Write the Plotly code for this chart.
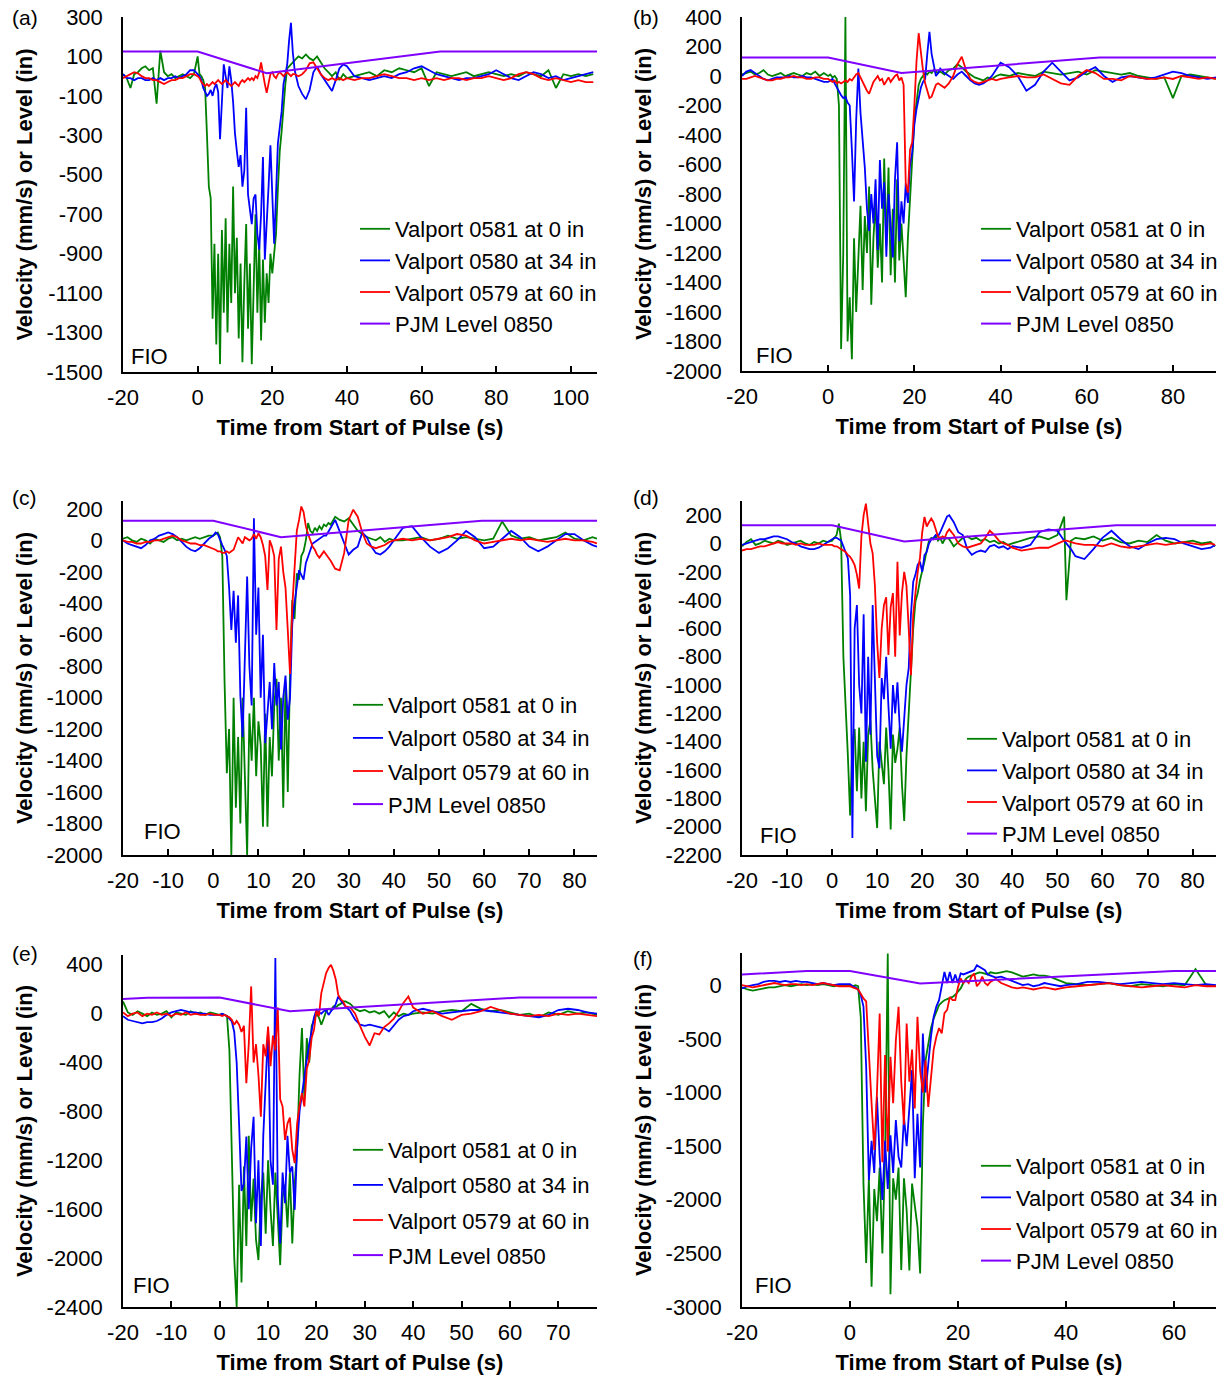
import plotly.graph_objects as go

W, H = 1230, 1377
FONT = "Liberation Sans, Arial, Helvetica, sans-serif"

NAMES = ["Valport 0581 at 0 in", "Valport 0580 at 34 in", "Valport 0579 at 60 in", "PJM Level 0850"]
COLORS = ["#008000", "#0000FF", "#FF0000", "#8000FF"]

# ---------------- shared time segments (s) ----------------
T_PRE = [-20, -19, -18, -17, -16, -15, -14, -13, -12, -11, -10, -9, -8, -7, -6, -5, -4, -3, -2, -1]
T_PULSE = [0, 0.5, 1, 1.5, 2, 2.5, 3, 3.5, 4, 4.5,
           5, 5.5, 6, 6.5, 7, 7.5, 8, 8.5, 9, 9.5,
           10, 10.5, 11, 11.5, 12, 12.5, 13, 13.5, 14, 14.5,
           15, 15.5, 16, 16.5, 17, 17.5, 18, 18.5, 19, 19.5,
           20, 20.5, 21, 21.5, 22, 22.5, 23, 23.5, 24, 24.5,
           25, 25.5]
T_MID = [26, 27, 28, 29, 30, 31, 32, 33, 34, 35, 36, 37, 38, 39, 40]

A_POST = [42, 44, 46, 48, 50, 52, 54, 56, 58, 60, 62, 64, 66, 68, 70, 72, 74, 76, 78, 80,
          82, 84, 86, 88, 90, 92, 94, 96, 98, 100, 102, 104, 106]
B_POST = [42, 44, 46, 48, 50, 52, 54, 56, 58, 60, 62, 64, 66, 68, 70, 72, 74, 76, 78, 80,
          82, 84, 86, 88, 90]
C_POST = [42, 44, 46, 48, 50, 52, 54, 56, 58, 60, 62, 64, 66, 68, 70, 72, 74, 76, 78, 80,
          82, 84, 85]
D_POST = [42, 44, 46, 48, 50, 51.5, 52, 53, 54, 56, 58, 60, 62, 64, 66, 68, 70, 72, 74, 76,
          78, 80, 82, 84, 85]
E_POST = [42, 44, 46, 48, 50, 52, 54, 56, 58, 60, 62, 64, 66, 68, 70, 72, 74, 76, 78]
F_POST = [42, 44, 46, 48, 50, 52, 54, 56, 58, 60, 62, 64, 66, 68]

A_T = T_PRE + T_PULSE + T_MID + A_POST
B_T = T_PRE + T_PULSE + T_MID + B_POST
C_T = T_PRE + T_PULSE + T_MID + C_POST
D_T = T_PRE + T_PULSE + T_MID + D_POST
E_T = T_PRE + T_PULSE + T_MID + E_POST
F_T = T_PRE + T_PULSE + T_MID + F_POST

# ---------------- panel (a) ----------------
A_GREEN = ([10, -10, -60, 10, 20, 40, 50, 30, 40, -140, 130, 20, 0, 10, -10, 0, 10, 0, -10, 10] +
           [100, 10, 0, -20, -60, -300, -560, -620, -1230, -850,
            -1360, -900, -1460, -780, -1200, -720, -1300, -850, -1150, -560,
            -1100, -820, -1330, -950, -1450, -1050, -750, -1280, -950, -1460,
            -1100, -700, -1200, -850, -1340, -930, -1250, -1000, -1150, -900,
            -1000, -900, -800, -570, -380, -280, -150, -40, 40, 50,
            60, 70] +
           [80, 100, 90, 110, 90, 80, 100, 70, 40, 20, 0, 20, -20, 10, -10] +
           [0, 10, 20, 0, 30, 20, 40, 30, 20, 40, -50, 20, 10, 0, 10, 20, 0, 10, 20, 10,
            0, 10, 0, 20, 10, 0, 30, -60, 10, 0, 10, 0, 10])
A_BLUE = ([10, -10, -10, -20, -10, -10, -20, -20, -10, -20, -10, -20, -10, -10, 0, -10, 0, 10, 30, 30] +
          [10, 0, -20, -60, -80, -100, -90, -70, -100, -60,
           -40, -80, -320, -100, 60, 0, -60, 50, -20, -130,
           -290, -380, -460, -400, -560, -480, -160, -600, -680, -750,
           -620, -600, -800, -880, -700, -410, -930, -700, -560, -350,
           -650, -850, -600, -340, -260, -180, -40, 20, 60, 180,
           270, 120] +
          [30, -50, -90, -117, -70, 20, 50, 10, -20, -50, -75, -20, 40, 60, 50] +
          [0, -10, -20, -10, 0, -10, 10, 20, 40, 50, 30, 10, 0, -10, -20, -10, -10, 0, 10, 30,
           10, -10, -20, 0, 20, 10, -10, 0, -20, -10, 0, 10, 20])
A_RED = ([-10, 0, 10, 20, 15, 0, -10, -10, -20, -20, -30, -40, -30, -20, -20, -10, -10, 0, 10, 10] +
         [0, -10, -30, -40, -50, -40, -50, -40, -30, -40,
          -30, -20, -30, -40, -30, -20, -30, -40, -50, -40,
          -30, -40, -50, -30, -20, -30, -20, -10, -20, -10,
          -20, 0, -10, 20, 70, 10, -40, -85, -30, 10,
          20, 0, -10, 10, 20, 10, 0, 10, 20, 10,
          0, 10] +
         [10, 0, 10, 30, 65, 70, 40, 10, -10, -20, -10, -20, -10, -20, -10] +
         [-20, -10, -10, 0, 10, 0, -10, -10, -20, -10, -20, -10, -20, -10, -10, -20, -10, -10, 0, -10,
          -20, -10, 10, 20, 10, -10, -20, -10, -20, -30, -20, -30, -30])
A_LEVEL_T = [-20, 0, 18.5, 65, 107]
A_LEVEL = [125, 125, 15, 125, 125]

# ---------------- panel (b) ----------------
B_GREEN = ([10, 20, 30, 10, 20, 40, 10, 0, 10, 20, 0, 10, 20, 10, 0, 20, 10, 30, 0, 20] +
           [0, 10, -10, 0, -20, -200, -1850, -1200, 400, -1800,
            -1500, -1920, -1100, -1600, -1250, -880, -1450, -950, -1200, -750,
            -1550, -1100, -850, -1300, -1000, -1400, -560, -1150, -620, -1350,
            -900, -1400, -700, -1250, -1000, -1300, -1500, -1100, -800, -550,
            -300, -180, -60, -20, 0, 20, 10, 30, 20, 40,
            30, 20] +
           [30, 10, 40, 50, 80, 60, 30, 10, -10, -20, -30, -10, -20, 0, 10] +
           [0, 20, 10, 0, 30, 20, 10, 20, 30, 10, 40, 30, 20, 10, 20, 0, -10, -20, -10, -150,
            0, 10, 0, -10, -20])
B_BLUE = ([0, 30, 40, 20, 0, -20, -30, -20, -10, -10, -10, 0, -10, -10, 0, -10, -10, -20, -30, -40] +
          [-40, -30, -20, -50, -80, -100, -130, -150, -140, -180,
           -200, -500, -850, -300, 50, -250, -450, -620, -900, -1050,
           -800, -1000, -700, -1180, -570, -900, -720, -1225, -800, -1000,
           -1230, -700, -450, -1120, -850, -1000, -730, -860, -600, -520,
           -330, -225, -150, -80, -40, -20, 150, 300, 150, 60,
           0, 20] +
          [50, 20, 0, -20, 10, 30, 0, -30, -50, -60, -50, -30, 0, 50, 90] +
          [60, 0, -100, -60, 30, 90, 30, -30, -10, 30, 60, 0, -40, -10, 0, -10, -20, -10, 10, 30,
           20, 0, -10, -20, -10])
B_RED = ([-20, -20, -10, 0, -10, -20, -30, -30, -20, -20, -10, -10, 0, -10, -10, -20, -20, -10, -10, -20] +
         [-20, -30, -40, -30, -50, -40, -50, -40, -30, -40,
          -20, -30, -10, 10, 20, -10, -40, -80, -100, -120,
          -80, -40, -20, 0, -30, -20, -60, -30, -10, -40,
          -20, 0, 10, -30, -10, -60, -730, -790, -500, -450,
          -200, 100, 290, 150, 40, -50, -100, -150, -140, -100,
          -60, -50] +
         [-60, -80, -50, 0, 80, 130, 40, -20, -40, -50, -40, -30, -20, -30, -20] +
         [-10, 0, -10, -10, 10, -20, -50, -60, 0, 40, 20, -20, -20, -30, 0, -10, -20, -20, -10, -20,
          0, -10, -20, -10, -20])
B_LEVEL_T = [-20, 0, 17, 63, 90]
B_LEVEL = [125, 125, 20, 125, 125]

# ---------------- panel (c) ----------------
C_GREEN = ([10, 20, 0, -10, 10, 0, -20, 10, 0, -10, 10, 20, 0, 10, 0, 10, 20, 10, 20, 30] +
           [30, 40, 50, 20, -100, -900, -1480, -1200, -2000, -1000,
            -1700, -1250, -1800, -1000, -1600, -2000, -1100, -1400, -1000, -1500,
            -1150, -1300, -1820, -1100, -1820, -1250, -1500, -1050, -880, -1400,
            -1000, -1700, -900, -1600, -850, -380, -500, -210, -250, -100,
            -70, 0, 110, 60, 45, 80, 60, 90, 70, 100,
            90, 110] +
           [100, 150, 130, 120, 140, 100, 60, 40, 20, 10, 0, 20, -10, 10, 0] +
           [0, 10, 20, 0, 10, 30, 10, 20, 10, 0, 10, 120, 30, 10, 20, 0, 10, 20, 50, 10,
            0, 20, 10])
C_BLUE = ([0, -20, -30, -40, -50, -30, 0, 10, 30, 40, 50, 40, 20, -10, -40, -60, -70, -50, -20, 10] +
          [30, 50, 40, 0, -30, -60, -100, -300, -570, -320,
           -650, -350, -990, -1250, -700, -230, -800, -1050, 140, -600,
           -300, -1000, -600, -1290, -1100, -900, -1200, -780, -1050, -900,
           -1330, -1000, -860, -1140, -1000, -530, -400, -290, -190, -220,
           -250, -145, -100, -60, -20, -10, 0, 10, 20, 30,
           30, 60] +
          [80, 130, 60, -20, -90, -60, -40, 50, 20, -40, -80, -90, -70, -40, 0] +
          [80, 90, 20, -40, -80, -50, 0, 60, 20, -50, -40, 10, 60, 20, -40, -70, -40, 0, 40, 40,
           0, -30, -40])
C_RED = ([0, -10, -10, -20, -20, -10, -10, 0, 0, 10, 20, 30, 20, 0, -10, -20, -20, -30, -30, -40] +
         [-50, -60, -70, -70, -80, -80, -70, -80, -70, -60,
          -20, 20, 0, -20, 20, 10, 0, 10, 40, 10,
          45, 20, -30, -100, -315, 0, -40, -100, -570, -120,
          -40, -200, -300, -570, -850, -420, -150, 60, 130, 215,
          180, 90, 40, 0, -40, -60, -92, -110, -90, -70,
          -90, -110] +
         [-130, -180, -190, -80, 130, 195, 150, 50, -20, -40, -50, -40, -30, -10, 0] +
         [10, 0, 10, 0, 10, 20, 40, 30, 0, -20, -10, 0, 10, 0, 10, 0, -10, 0, 10, 0,
          0, -10, -20])
C_LEVEL_T = [-20, 0, 15, 59.5, 85]
C_LEVEL = [125, 125, 20, 125, 125]

# ---------------- panel (d) ----------------
D_GREEN = ([-20, 10, 30, -10, 0, 20, 10, 0, 20, 10, -10, 0, 10, 20, 0, -10, 10, 0, 20, 10] +
           [20, 40, 60, 140, 20, -800, -1120, -1500, -1920, -1400,
            -1310, -1750, -1300, -1800, -1400, -1890, -1350, -1250, -1600, -1800,
            -2010, -1400, -1550, -1700, -1300, -1600, -2020, -1350, -1550, -1450,
            -1300, -1700, -1960, -1500, -1200, -880, -600, -410, -350, -260,
            -200, -130, -50, 20, 40, 30, 50, 20, 40, 0,
            30, 40] +
           [30, -20, 10, 40, 50, 30, 40, 20, 30, 10, 20, 0, 10, -10, 0] +
           [20, 40, 50, 30, 60, 190, -400, 20, 40, 30, 50, 20, 40, 10, 0, 20, 10, 60, 20, 0,
            10, 20, 0, 10, -20])
D_BLUE = ([-10, 0, 10, 20, 30, 30, 40, 50, 50, 40, 30, 10, 0, -20, -30, -40, -40, -30, -10, 10] +
          [30, 40, 40, 30, 20, -20, -60, -106, -365, -2080,
           -600, -435, -1000, -1200, -500, -1541, -800, -1350, -435, -1000,
           -1500, -1588, -950, -1100, -800, -1150, -1450, -1000, -1200, -980,
           -1300, -1470, -1200, -1000, -880, -500, -270, -220, -150, -129,
           -200, -82, -60, 0, 30, 40, 60, 50, 80, 120,
           160, 190] +
          [200, 150, 80, 60, -40, -80, -60, -50, -60, -20, -10, -30, -20, -40, -20] +
          [-30, -10, 80, 100, 90, 20, 0, -40, -90, -110, -40, 40, 90, 30, -20, -40, 0, 30, 40, 30,
           0, -20, -40, -30, -10])
D_RED = ([-50, -40, -40, -30, -20, -20, -10, 0, 10, 0, 0, 0, -10, 0, -10, -10, -10, 0, -10, -10] +
         [-10, -20, -20, -30, -40, -50, -60, -80, -94, -120,
          -153, -220, -318, 50, 200, 282, 150, 0, -70, -300,
          -700, -950, -600, -435, -380, -788, -450, -350, -800, -130,
          -650, -350, -200, -300, -600, -930, -500, -350, -200, -100,
          80, 188, 120, 150, 176, 150, 100, 50, 35, 50,
          40, 80] +
         [100, 60, 0, -20, -30, -20, -10, 0, 40, 90, 60, 20, 0, -10, -30] +
         [-50, -40, -30, -30, 0, 20, 20, 10, 0, -10, -10, -20, 0, -20, -30, -20, -10, 0, -10, 0,
          10, 0, -10, 0, -10])
D_LEVEL_T = [-20, 0, 16, 63, 85.2]
D_LEVEL = [129, 129, 14, 129, 129]

# ---------------- panel (e) ----------------
E_GREEN = ([100, 10, -10, 20, 0, -20, 10, -10, 0, 20, -30, 10, 0, -10, 20, 0, 10, -10, 10, 0] +
           [-10, 0, -10, -20, -300, -1200, -2000, -2400, -1400, -2200,
            -1250, -1900, -1000, -1700, -1350, -1850, -2016, -1500, -1300, -1800,
            -1200, -1600, -1900, -1300, -1700, -2057, -1500, -1400, -1750, -1300,
            -1880, -1400, -1100, -500, -117, -700, -200, -400, -100, -50,
            0, -30, -90, -40, 20, 40, 30, 60, 50, 70,
            80, 100] +
           [100, 80, 40, 20, 30, 10, 20, 0, 20, -30, 10, -20, 0, -10, 0] +
           [10, 0, 20, 30, 20, 80, 40, 20, 30, 10, -10, 0, -30, 10, -10, 20, 0, 10, -10])
E_BLUE = ([-20, -50, -60, -70, -80, -70, -70, -60, -40, -10, 10, 20, 30, 20, 10, 10, 0, 0, -10, -10] +
          [-10, 0, -10, -20, -40, -64, -150, -400, -900, -1450,
           -1390, -1006, -1600, -1100, -843, -1715, -1200, -1900, -1000, -570,
           -130, -1200, -1400, 455, -1500, -1880, -1300, -1550, -1000, -1300,
           -1250, -1605, -1100, -800, -650, -500, -378, -250, -130, -30,
           30, 10, 0, 20, 30, -10, 20, 40, 80, 140,
           110, 80] +
          [60, 20, -50, -90, -100, -90, -100, -110, -120, -145, -100, -50, -20, -10, 20] +
          [40, 20, 0, 10, 20, 30, 30, 20, 10, 0, -10, -20, -30, -10, 30, 40, 30, 10, 0])
E_RED = ([10, -20, 0, 10, -20, 0, -10, 10, -10, 0, -20, 0, -10, 10, -10, 0, -10, -10, 0, -10] +
         [-10, -20, -10, -20, -30, -50, -90, -60, -90, -150,
          -100, -569, -250, 223, -400, -250, -500, -843, -250, -350,
          -105, -430, -180, -300, 50, -700, -760, -1033, -900, -850,
          -1115, -1223, -900, -750, -650, -760, -450, -380, -200, -130,
          30, -20, 168, 250, 332, 373, 400, 350, 277, 154,
          120, 100] +
         [60, 50, 0, -100, -190, -260, -160, -170, -110, -80, -40, 20, 90, 140, 50] +
         [0, 20, -20, -50, -10, 0, 20, 55, 30, 0, -10, -20, -10, -20, 0, -10, 0, -10, -20])
E_LEVEL_T = [-20, -15, 0, 14.5, 62, 78]
E_LEVEL = [120, 130, 132, 20, 132, 132]

# ---------------- panel (f) ----------------
F_GREEN = ([-20, -40, -50, -40, -30, -20, -20, -10, 0, -10, 0, 10, 0, 10, 0, 10, 0, -10, 0, 0] +
           [0, -10, 0, -10, -300, -1850, -2590, -1800, -2810, -1900,
            -2200, -1700, -2500, -1600, 295, -2882, -1800, -2000, -1700, -2655,
            -1800, -2100, -2660, -1850, -2050, -2250, -2687, -1300, -700, -530,
            -400, -311, -250, -186, -160, -140, -130, -120, -109, -90,
            -62, -30, 20, 62, 80, 93, 100, 110, 120, 115,
            110, 100] +
           [120, 110, 120, 130, 120, 100, 80, 90, 100, 90, 90, 80, 60, 40, 20] +
           [10, 0, 10, 20, 0, -10, 10, 0, -10, 10, 0, 150, 0, -10])
F_BLUE = ([-30, -10, 0, 10, 30, 40, 40, 30, 40, 30, 40, 30, 30, 20, 10, 20, 10, 0, 10, 10] +
          [10, -10, -20, -40, -93, -200, -760, -1817, -1450, -1750,
           -1040, -1600, -2003, -1450, -1900, -1400, -1750, -1258, -1600, -1700,
           -1227, -1500, -1100, -792, -1800, -1200, -1700, -450, -1000, -700,
           -480, -295, -200, -140, -15, 124, 20, 124, 20, 100,
           20, 109, 100, 110, 120, 130, 140, 186, 170, 150,
           140, 100] +
          [90, 70, 80, 60, 40, 20, 0, 10, -10, 0, 20, 10, 0, -10, 0] +
          [10, 30, 30, 20, 10, 20, 30, 20, 10, 20, 10, 0, 10, 0])
F_RED = ([0, -10, -20, -10, 0, 10, 20, 10, 0, 10, 10, 0, 10, 0, 10, 20, 10, 0, -10, -10] +
         [-10, -20, -30, -40, -80, -124, -150, -668, -1100, -1537,
          -1000, -264, -1650, -650, -1550, -668, -1100, -512, -202, -900,
          -1300, -357, -900, -600, -1150, -295, -800, -1000, -700, -1134,
          -850, -600, -481, -400, -450, -260, -230, -110, -140, -140,
          -20, 62, 20, 47, 20, 80, 109, -10, 20, 80,
          20, 0] +
         [30, 60, 20, 0, -20, -30, -20, -30, -40, -30, -20, -30, -40, -30, -20] +
         [-10, 0, 10, 20, 0, -10, -20, -10, 0, -10, -20, 0, -10, -10])
F_LEVEL_T = [-20, -8, 0, 13, 60, 68]
F_LEVEL = [100, 132, 132, 16, 132, 132]

# ---------------- tick labels ----------------
A_XTICKS = [-20, 0, 20, 40, 60, 80, 100]
A_YTICKS = [-1500, -1300, -1100, -900, -700, -500, -300, -100, 100, 300]
B_XTICKS = [-20, 0, 20, 40, 60, 80]
B_YTICKS = [-2000, -1800, -1600, -1400, -1200, -1000, -800, -600, -400, -200, 0, 200, 400]
C_XTICKS = [-20, -10, 0, 10, 20, 30, 40, 50, 60, 70, 80]
C_YTICKS = [-2000, -1800, -1600, -1400, -1200, -1000, -800, -600, -400, -200, 0, 200]
D_XTICKS = [-20, -10, 0, 10, 20, 30, 40, 50, 60, 70, 80]
D_YTICKS = [-2200, -2000, -1800, -1600, -1400, -1200, -1000, -800, -600, -400, -200, 0, 200]
E_XTICKS = [-20, -10, 0, 10, 20, 30, 40, 50, 60, 70]
E_YTICKS = [-2400, -2000, -1600, -1200, -800, -400, 0, 400]
F_XTICKS = [-20, 0, 20, 40, 60]
F_YTICKS = [-3000, -2500, -2000, -1500, -1000, -500, 0]

PANELS = [
    dict(key="a", t=A_T, s=[A_GREEN, A_BLUE, A_RED], lt=A_LEVEL_T, lv=A_LEVEL,
         xr=[-20, 107], yr=[-1500, 300], xt=A_XTICKS, yt=A_YTICKS,
         px=(123, 597), py=(17, 372), leg=(355, 208, 0), fio=(-18.5, -1420), lab=(10, 18)),
    dict(key="b", t=B_T, s=[B_GREEN, B_BLUE, B_RED], lt=B_LEVEL_T, lv=B_LEVEL,
         xr=[-20, 90], yr=[-2000, 400], xt=B_XTICKS, yt=B_YTICKS,
         px=(742, 1216), py=(17, 371), leg=(976, 208, 0), fio=(-17.2, -1894), lab=(631, 18)),
    dict(key="c", t=C_T, s=[C_GREEN, C_BLUE, C_RED], lt=C_LEVEL_T, lv=C_LEVEL,
         xr=[-20, 85], yr=[-2000, 250], xt=C_XTICKS, yt=C_YTICKS,
         px=(123, 597), py=(501, 855), leg=(348, 684, 1.5), fio=(-15.7, -1851), lab=(10, 498)),
    dict(key="d", t=D_T, s=[D_GREEN, D_BLUE, D_RED], lt=D_LEVEL_T, lv=D_LEVEL,
         xr=[-20, 85.2], yr=[-2200, 300], xt=D_XTICKS, yt=D_YTICKS,
         px=(742, 1216), py=(501, 855), leg=(962, 718, 0), fio=(-16.4, -2059), lab=(631, 498)),
    dict(key="e", t=E_T, s=[E_GREEN, E_BLUE, E_RED], lt=E_LEVEL_T, lv=E_LEVEL,
         xr=[-20, 78], yr=[-2400, 480], xt=E_XTICKS, yt=E_YTICKS,
         px=(123, 597), py=(955, 1307), leg=(348, 1129, 3.5), fio=(-18.3, -2221), lab=(10, 953)),
    dict(key="f", t=F_T, s=[F_GREEN, F_BLUE, F_RED], lt=F_LEVEL_T, lv=F_LEVEL,
         xr=[-20, 67.8], yr=[-3000, 300], xt=F_XTICKS, yt=F_YTICKS,
         px=(742, 1216), py=(953, 1307), leg=(976, 1145, 0), fio=(-18.0, -2804), lab=(631, 958)),
]

fig = go.Figure()
layout = dict(width=W, height=H, margin=dict(l=0, r=0, t=0, b=0),
              paper_bgcolor="white", plot_bgcolor="white",
              font=dict(family=FONT, size=22, color="black"),
              showlegend=True, annotations=[])

for i, p in enumerate(PANELS, start=1):
    sfx = "" if i == 1 else str(i)
    for k, ser in enumerate(p["s"]):
        if len(ser) != len(p["t"]):
            raise ValueError(f"panel {p['key']} series {k}: {len(ser)} values vs {len(p['t'])} times")
    traces = [(p["t"], ser) for ser in p["s"]] + [(p["lt"], p["lv"])]
    for k, (tx, vy) in enumerate(traces):
        fig.add_trace(go.Scatter(
            x=tx, y=vy, mode="lines", name=NAMES[k],
            line=dict(color=COLORS[k], width=1.8 if k < 3 else 2),
            xaxis="x" + sfx, yaxis="y" + sfx, legend="legend" + sfx,
            legendgroup=f"{p['key']}{k}", hoverinfo="x+y+name"))
    x0, x1 = p["px"]
    y0, y1 = p["py"]
    layout["xaxis" + sfx] = dict(
        domain=[x0 / W, x1 / W], anchor="y" + sfx, range=p["xr"],
        tickmode="array", tickvals=p["xt"], ticktext=[str(v) for v in p["xt"]],
        ticks="inside", ticklen=6, tickwidth=1.5, tickcolor="black",
        showline=True, linecolor="black", linewidth=1.5,
        showgrid=False, zeroline=False, automargin=False, ticklabelstandoff=5,
        tickfont=dict(size=22, color="black", family=FONT),
        title=dict(text="Time from Start of Pulse (s)", standoff=10,
                   font=dict(size=22, color="black", family=FONT, weight="bold")))
    layout["yaxis" + sfx] = dict(
        domain=[1 - y1 / H, 1 - y0 / H], anchor="x" + sfx, range=p["yr"],
        tickmode="array", tickvals=p["yt"], ticktext=[str(v) for v in p["yt"]],
        ticks="", showline=True, linecolor="black", linewidth=1.5,
        showgrid=False, zeroline=False, automargin=False, ticklabelstandoff=14,
        tickfont=dict(size=22, color="black", family=FONT),
        title=dict(text="Velocity (mm/s) or Level (in)", standoff=8,
                   font=dict(size=22, color="black", family=FONT, weight="bold")))
    lx, ly, gap = p["leg"]
    layout["legend" + sfx] = dict(
        x=lx / W, y=1 - ly / H, xanchor="left", yanchor="top",
        bgcolor="rgba(0,0,0,0)", borderwidth=0, itemwidth=30,
        tracegroupgap=gap, traceorder="grouped",
        font=dict(size=22, color="black", family=FONT))
    layout["annotations"].append(dict(
        text="FIO", x=p["fio"][0], y=p["fio"][1], xref="x" + sfx, yref="y" + sfx,
        xanchor="left", yanchor="middle", showarrow=False,
        font=dict(size=22, color="black", family=FONT)))
    layout["annotations"].append(dict(
        text=f"({p['key']})", x=p["lab"][0] / W, y=1 - p["lab"][1] / H,
        xref="paper", yref="paper", xanchor="left", yanchor="middle", showarrow=False,
        font=dict(size=21, color="black", family=FONT)))

fig.update_layout(**layout)
fig.write_html("out.html", config={"displayModeBar": False},
               post_script="document.body.style.margin='0';")
